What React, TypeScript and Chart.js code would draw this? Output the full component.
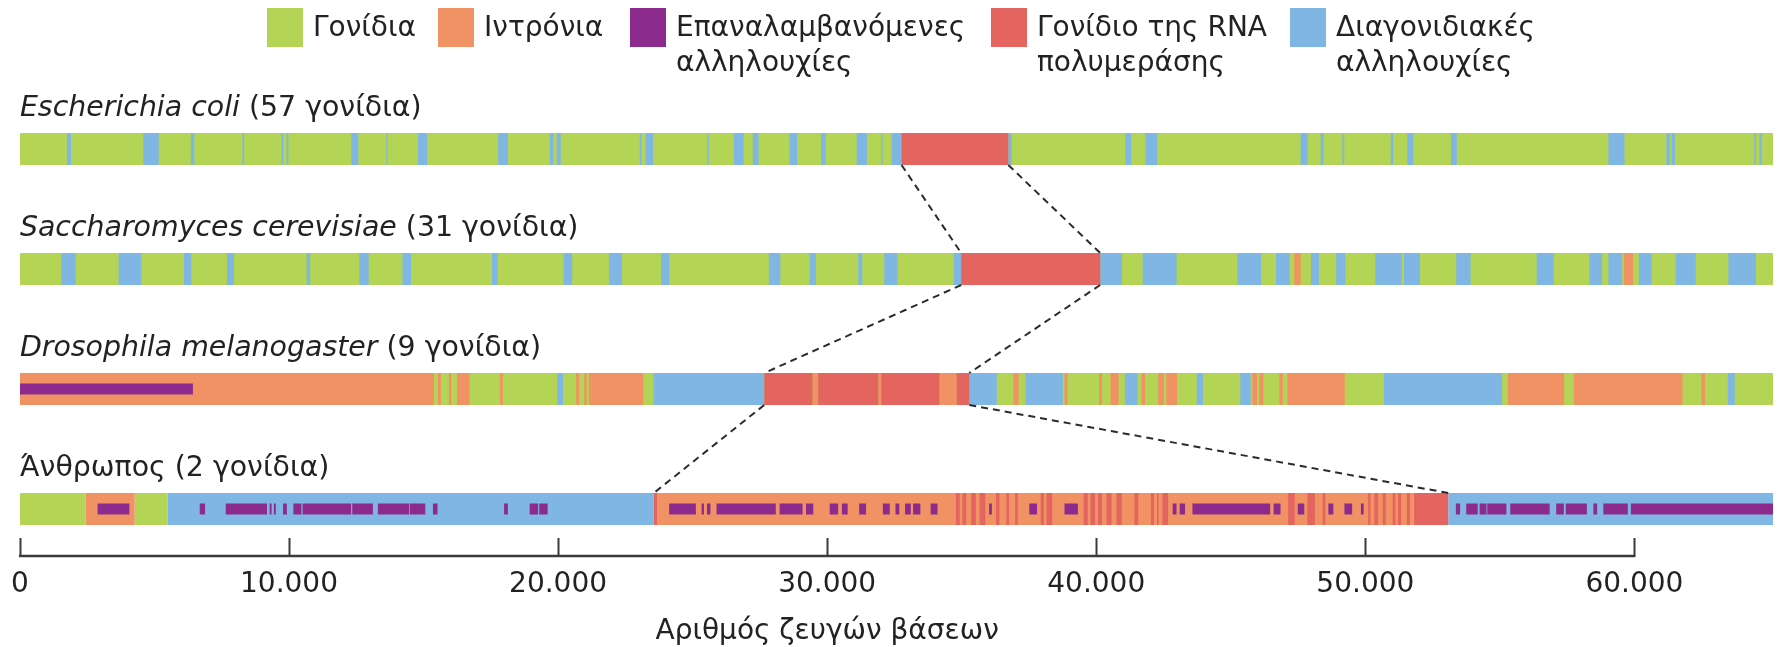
import React, { useEffect, useRef } from 'react';
import { Chart, registerables } from 'chart.js';

Chart.register(...registerables);

// ---------- data ----------
const speciesNames = ['Escherichia coli', 'Saccharomyces cerevisiae', 'Drosophila melanogaster', 'Άνθρωπος'];
const speciesItalic = [true, true, true, false];
const geneCounts = [57, 31, 9, 2];
const geneWord = 'γονίδια';
const genomeLength = 65150;

const tickValues = [0, 10000, 20000, 30000, 40000, 50000, 60000];
const tickLabels = ['0', '10.000', '20.000', '30.000', '40.000', '50.000', '60.000'];
const axisTitle = 'Αριθμός ζευγών βάσεων';

const legendLabels = [
  ['Γονίδια'],
  ['Ιντρόνια'],
  ['Επαναλαμβανόμενες', 'αλληλουχίες'],
  ['Γονίδιο της RNA', 'πολυμεράσης'],
  ['Διαγονιδιακές', 'αλληλουχίες'],
];

// segments [start, end] in base pairs, one list per species (order of speciesNames)
const genes: number[][][] = [
  [[0, 65150]],
  [[0, 65150]],
  [[0, 65150]],
  [[0, 2447], [4266, 5488]],
];

const introns: number[][][] = [
  [],
  [[47359, 47594], [59609, 59950]],
  [[0, 15389], [15538, 15644], [15943, 16028], [16241, 16710], [17839, 17946], [20673, 20780], [20972, 21057],
   [21142, 23167], [29453, 29666], [31904, 32010], [34171, 34812], [36924, 37116], [38823, 38930], [40104, 40211],
   [40531, 40829], [41683, 41811], [42302, 42515], [42601, 43006], [45802, 45973], [46058, 46207], [46805, 46933],
   [47103, 49237], [55298, 57389], [57752, 61785], [62490, 62618]],
  [[2447, 4266], [23700, 51800]],
];

const repeats: number[][][] = [
  [],
  [],
  [[0, 6430]],
  [[2887, 4067], [6682, 6880], [7648, 9182], [9282, 9353], [9438, 9509], [9779, 9921], [10163, 10461], [10504, 12309],
   [12351, 13119], [13303, 14469], [14497, 15065], [15350, 15520], [17993, 18135], [18944, 19257], [19300, 19613],
   [24127, 25121], [25334, 25420], [25533, 25661], [25889, 28091], [28233, 29086], [29214, 29484], [30095, 30407],
   [30549, 30762], [31189, 31445], [32070, 32326], [32539, 32681], [32894, 33107], [33193, 33463], [33846, 34102],
   [36020, 36120], [37512, 37797], [38820, 39317], [42841, 42983], [43100, 43300], [43575, 46463], [46591, 46848],
   [47488, 47730], [48626, 48811], [49224, 49509], [49836, 49936], [53365, 53522], [53749, 54176], [54247, 54503],
   [54532, 55243], [55386, 56851], [57093, 57378], [57449, 58232], [58474, 58616], [58844, 59755], [59868, 65150]],
];

const polymerase: number[][][] = [
  [[32763, 36732]],
  [[34982, 40147]],
  [[27663, 29453], [29666, 31904], [32010, 34171], [34812, 35281]],
  [[23558, 23700], [34784, 34926], [35026, 35168], [35353, 35523], [35665, 35878], [36276, 36404], [36660, 36759],
   [36986, 37086], [37939, 38052], [38152, 38365], [39530, 39686], [39786, 39956], [40070, 40212], [40383, 40568],
   [40752, 40951], [41420, 41562], [42031, 42145], [42258, 42315], [42457, 42671], [47132, 47374], [47844, 48128],
   [48413, 48513], [50106, 50192], [50334, 50476], [50647, 50761], [51017, 51117], [51216, 51330], [51544, 51657],
   [51800, 53081]],
];

const intergenic: number[][][] = [
  [[1750, 1899], [4584, 5160], [6353, 6481], [8271, 8335], [9720, 9784], [9912, 9976], [12320, 12576], [13620, 13662],
   [14792, 15133], [17775, 18138], [19693, 19821], [19949, 20098], [23038, 23103], [23252, 23529], [25553, 25600],
   [26534, 26896], [27237, 27450], [28600, 28878], [29773, 29943], [31094, 31478], [32010, 32060], [32394, 32763],
   [36732, 36860], [41085, 41299], [41833, 42260], [47595, 47850], [48341, 48448], [49152, 49216], [50945, 51030],
   [51564, 51778], [53186, 53400], [59033, 59631], [61188, 61316], [61380, 61508], [64453, 64517], [64645, 64730]],
  [[1537, 2070], [3668, 4520], [6097, 6374], [7695, 7951], [10658, 10786], [12618, 12959], [14216, 14536],
   [17541, 17754], [20205, 20524], [21888, 22378], [23827, 24126], [27833, 28260], [29346, 29581], [31157, 31306],
   [32120, 32614], [34705, 34982], [40147, 40958], [41726, 42985], [45247, 46122], [46677, 47189], [47978, 48277],
   [48917, 49258], [50369, 51350], [51435, 52033], [53377, 53911], [56365, 57005], [58328, 58798], [59033, 59545],
   [60163, 60633], [61529, 62276], [63492, 64516]],
  [[19970, 20183], [23550, 27663], [35281, 36305], [37372, 38759], [41064, 41534], [43732, 43966], [45353, 45738],
   [50688, 55084], [63471, 63727]],
  [[5488, 23558], [53081, 65150]],
];

// ---------- styles ----------
const FONT = '"DejaVu Sans", Verdana, sans-serif';
const TEXT = '#222222';
const COLORS = {
  genes: '#B3D455',
  introns: '#F19264',
  repeats: '#8C2A8E',
  polymerase: '#E4645F',
  intergenic: '#80B6E4',
};
const legendColors = [COLORS.genes, COLORS.introns, COLORS.repeats, COLORS.polymerase, COLORS.intergenic];
const legendX = [267, 438, 630, 991, 1290];
const BAR = 32;
const REPEAT_BAR = 11;
const TITLE_SIZE = 28.4;

const toPoints = (rows: number[][][]) =>
  rows.flatMap((segs, i) => segs.map((s) => ({ x: [s[0], s[1]], y: i })));

const extent = (segs: number[][]) => [Math.min(...segs.map((s) => s[0])), Math.max(...segs.map((s) => s[1]))];

const overlayPlugin = {
  id: 'genomeOverlay',
  afterDatasetsDraw(chart: any) {
    const { ctx, scales } = chart;
    const x = scales.x;
    const y = scales.y;
    ctx.save();
    ctx.strokeStyle = '#2b2b2b';
    ctx.lineWidth = 2;
    ctx.setLineDash([7, 5]);
    for (let i = 0; i < speciesNames.length - 1; i++) {
      const a = extent(polymerase[i]);
      const b = extent(polymerase[i + 1]);
      const y0 = y.getPixelForValue(i) + BAR / 2;
      const y1 = y.getPixelForValue(i + 1) - BAR / 2;
      for (const k of [0, 1]) {
        ctx.beginPath();
        ctx.moveTo(x.getPixelForValue(a[k]), y0);
        ctx.lineTo(x.getPixelForValue(b[k]), y1);
        ctx.stroke();
      }
    }
    ctx.restore();
  },
  afterDraw(chart: any) {
    const { ctx, scales, chartArea } = chart;
    const x = scales.x;
    const y = scales.y;
    ctx.save();
    // axis line + upward tick marks
    const axisY = chartArea.bottom - 1;
    ctx.strokeStyle = '#3a3a3a';
    ctx.lineWidth = 2.5;
    ctx.beginPath();
    ctx.moveTo(x.getPixelForValue(tickValues[0]) - 1, axisY);
    ctx.lineTo(x.getPixelForValue(tickValues[tickValues.length - 1]) + 1, axisY);
    ctx.stroke();
    ctx.lineWidth = 2;
    for (const v of tickValues) {
      const px = Math.round(x.getPixelForValue(v)) + 0.5;
      ctx.beginPath();
      ctx.moveTo(px, axisY);
      ctx.lineTo(px, axisY - 18);
      ctx.stroke();
    }
    // axis title
    ctx.fillStyle = TEXT;
    ctx.font = `28px ${FONT}`;
    ctx.textAlign = 'center';
    ctx.textBaseline = 'alphabetic';
    const mid = (x.getPixelForValue(tickValues[0]) + x.getPixelForValue(tickValues[tickValues.length - 1])) / 2;
    ctx.fillText(axisTitle, mid, 639);

    // row titles
    ctx.textAlign = 'left';
    speciesNames.forEach((name, i) => {
      const baseY = y.getPixelForValue(i) - BAR / 2 - 17;
      let cx = x.getPixelForValue(0);
      ctx.font = `${speciesItalic[i] ? 'italic ' : ''}${TITLE_SIZE}px ${FONT}`;
      ctx.fillText(name, cx, baseY);
      cx += ctx.measureText(name).width;
      ctx.font = `${TITLE_SIZE}px ${FONT}`;
      ctx.fillText(` (${geneCounts[i]} ${geneWord})`, cx, baseY);
    });

    // legend
    legendLabels.forEach((lines, i) => {
      ctx.fillStyle = legendColors[i];
      ctx.fillRect(legendX[i], 8, 36, 39);
      ctx.fillStyle = TEXT;
      ctx.font = `28px ${FONT}`;
      lines.forEach((line, j) => ctx.fillText(line, legendX[i] + 46, 36 + j * 35));
    });
    ctx.restore();
  },
};

export default function App() {
  const ref = useRef<HTMLCanvasElement>(null);
  useEffect(() => {
    if (!ref.current) return;
    const base = { grouped: false, borderWidth: 0, maxBarThickness: BAR, barPercentage: 0.9, categoryPercentage: 1 };
    const chart = new Chart(ref.current, {
      type: 'bar',
      data: {
        datasets: [
          { ...base, label: legendLabels[0].join(' '), data: toPoints(genes) as any, backgroundColor: COLORS.genes, order: 4 },
          { ...base, label: legendLabels[1].join(' '), data: toPoints(introns) as any, backgroundColor: COLORS.introns, order: 2 },
          { ...base, label: legendLabels[2].join(' '), data: toPoints(repeats) as any, backgroundColor: COLORS.repeats, order: 0, maxBarThickness: REPEAT_BAR },
          { ...base, label: legendLabels[3].join(' '), data: toPoints(polymerase) as any, backgroundColor: COLORS.polymerase, order: 1 },
          { ...base, label: legendLabels[4].join(' '), data: toPoints(intergenic) as any, backgroundColor: COLORS.intergenic, order: 3 },
        ] as any,
      },
      options: {
        indexAxis: 'y',
        animation: false,
        responsive: false,
        events: [],
        layout: { padding: { left: 16, right: 8, top: 77, bottom: 0 } },
        plugins: { legend: { display: false }, tooltip: { enabled: false } },
        scales: {
          x: {
            type: 'linear',
            min: 0,
            max: genomeLength,
            offset: false,
            position: 'bottom',
            grid: { display: false, drawTicks: false },
            border: { display: false },
            afterBuildTicks: (s: any) => { s.ticks = tickValues.map((v) => ({ value: v })); },
            afterFit: (s: any) => { s.height = 90; },
            ticks: {
              font: { family: FONT, size: 28 },
              color: TEXT,
              padding: 11,
              maxRotation: 0,
              autoSkip: false,
              callback: (v: any) => tickLabels[tickValues.indexOf(Number(v))] ?? '',
            },
          },
          y: {
            type: 'linear',
            display: false,
            offset: false,
            reverse: true,
            min: -0.6,
            max: 3.4,
            afterBuildTicks: (s: any) => { s.ticks = speciesNames.map((_, i) => ({ value: i })); },
          },
        },
      } as any,
      plugins: [overlayPlugin],
    });
    return () => chart.destroy();
  }, []);
  return (
    <div style={{ position: 'absolute', left: 0, top: 0, width: 1781, height: 647 }}>
      <canvas ref={ref} width={1781} height={647} style={{ display: 'block', width: 1781, height: 647 }} />
    </div>
  );
}
